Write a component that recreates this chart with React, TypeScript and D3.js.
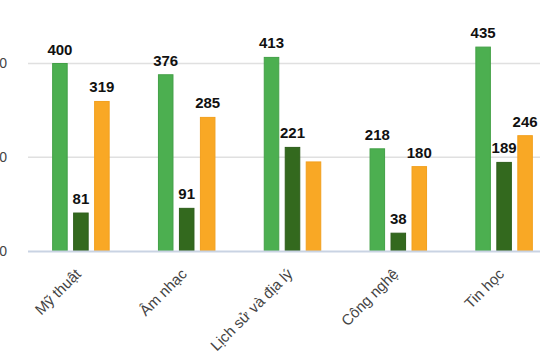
import * as d3 from "d3";

// chart data
const categories = ["Mỹ thuật", "Âm nhạc", "Lịch sử và địa lý", "Công nghệ", "Tin học"];
const seriesNames = ["s1", "s2", "s3"];
const s1 = [400, 376, 413, 218, 435];
const s2 = [81, 91, 221, 38, 189];
const s3 = [319, 285, 190, 180, 246];
// the orange bar of "Lịch sử và địa lý" has no value label
const s3Labels = [true, true, false, true, true];
const yTicks = [0, 200, 400];

const colors = ["#4caf50", "#33691e", "#f9a825"];
const strokes = ["#43a047", "#2e5e1b", "#f2a01e"];

const width = 540;
const height = 360;

const x = d3.scaleBand().domain(categories).range([28, 557]).paddingInner(0);
const y = d3.scaleLinear().domain([0, 400]).range([251, 63.5]);

export default function App() {
  const values = [s1, s2, s3];
  const labelsOn = [s1.map(() => true), s2.map(() => true), s3Labels];

  return (
    <div style={{ position: "fixed", left: 0, top: 0 }}>
      <svg width={width} height={height} style={{ display: "block", background: "#fff" }}>
        {/* gridlines */}
        {yTicks.filter(t => t > 0).map(t => (
          <line key={t} x1={28} x2={width} y1={y(t)} y2={y(t)} stroke="#e0e0e0" strokeWidth={1.5} />
        ))}
        {/* y tick labels, mostly cut off at the left edge like the original */}
        {yTicks.map(t => (
          <text key={t} x={7} y={y(t)} dy="0.35em" textAnchor="end"
            fontFamily="Liberation Sans, Arial, sans-serif" fontSize={14} fill="#444">
            {t}
          </text>
        ))}

        {categories.map((c, i) => {
          const center = x(c)! + x.bandwidth() / 2;
          const inner = d3.scaleBand().domain(seriesNames)
            .range([center - 28.75, center + 28.75]).paddingInner(0.26);
          return (
            <g key={c}>
              {values.map((vals, k) => {
                const bx = inner(seriesNames[k])!;
                const v = vals[i];
                return (
                  <g key={k}>
                    <rect x={bx + 0.5} y={y(v)} width={inner.bandwidth() - 1} height={y(0) - y(v)}
                      fill={colors[k]} stroke={strokes[k]} strokeWidth={1} />
                    {labelsOn[k][i] && (
                      <text x={bx + inner.bandwidth() / 2} y={y(v) - 9} textAnchor="middle"
                        fontFamily="Liberation Sans, Arial, sans-serif" fontWeight="bold"
                        fontSize={15} fill="#111">
                        {v}
                      </text>
                    )}
                  </g>
                );
              })}
              <text transform={`translate(${center + 1},${y(0) + 24}) rotate(-45)`} textAnchor="end"
                fontFamily="Liberation Sans, Arial, sans-serif" fontSize={15} fill="#444">
                {c}
              </text>
            </g>
          );
        })}

        {/* baseline */}
        <line x1={28} x2={width} y1={y(0) + 0.5} y2={y(0) + 0.5} stroke="#c9d3e3" strokeWidth={2} />
      </svg>
    </div>
  );
}
